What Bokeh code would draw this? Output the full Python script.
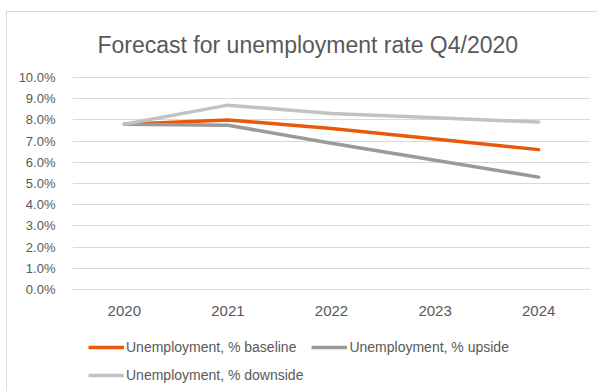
from bokeh.plotting import figure
from bokeh.layouts import column
from bokeh.models import (Range1d, FactorRange, FixedTicker, PrintfTickFormatter,
                          Legend, LegendItem)
from bokeh.embed import file_html
from bokeh.resources import INLINE

# ---- data ----
years = ["2020", "2021", "2022", "2023", "2024"]
baseline = [7.8, 8.0, 7.6, 7.1, 6.6]
upside = [7.8, 7.75, 6.9, 6.1, 5.3]
downside = [7.8, 8.7, 8.3, 8.1, 7.9]
y_ticks = [0, 1, 2, 3, 4, 5, 6, 7, 8, 9, 10]
title_text = "Forecast for unemployment rate Q4/2020"
names = ["Unemployment, % baseline", "Unemployment, % upside", "Unemployment, % downside"]

FONT = "Liberation Sans"
TXT = "#595959"
colors = ["#E65A0A", "#9A9A9A", "#C2C2C2"]

p = figure(x_range=FactorRange(*years), y_range=Range1d(-0.1, 10.1),
           width=590, height=316, output_backend="svg", toolbar_location=None,
           min_border_left=65, min_border_right=7, min_border_top=62, min_border_bottom=37,
           title=title_text)

p.title.text_font = FONT
p.title.text_font_size = "23px"
p.title.text_font_style = "normal"
p.title.text_color = TXT
p.title.align = "left"
p.title.offset = 25
p.title.standoff = 35

p.outline_line_color = None
p.background_fill_color = "white"
p.border_fill_color = "white"

p.xgrid.grid_line_color = None
p.ygrid.grid_line_color = "#D9D9D9"
p.ygrid.grid_line_width = 1
p.ygrid.ticker = FixedTicker(ticks=y_ticks)

p.yaxis.ticker = FixedTicker(ticks=y_ticks)
p.yaxis.formatter = PrintfTickFormatter(format="%.1f%%")
for ax in (p.xaxis[0], p.yaxis[0]):
    ax.axis_line_color = None
    ax.major_tick_line_color = None
    ax.minor_tick_line_color = None
    ax.major_tick_out = 0
    ax.major_tick_in = 0
    ax.major_label_text_color = TXT
    ax.major_label_text_font = FONT
p.yaxis.major_label_text_font_size = "13px"
p.yaxis.major_label_standoff = 17
p.xaxis.major_label_text_font_size = "15px"
p.xaxis.major_label_standoff = 14

for vals, c in zip([baseline, upside, downside], colors):
    p.line(years, vals, line_color=c, line_width=3.5,
           line_cap="round", line_join="round")

# ---- legend strip ----
p2 = figure(width=590, height=63, output_backend="svg", toolbar_location=None,
            x_range=Range1d(0, 1), y_range=Range1d(0, 1),
            x_axis_type=None, y_axis_type=None,
            min_border_left=65, min_border_right=7, min_border_top=0, min_border_bottom=0)
p2.outline_line_color = None
p2.grid.grid_line_color = None
p2.border_fill_color = "white"

# legend proxies drawn outside the visible range
legend_renderers = [p2.line([5, 6], [5, 6], line_color=c, line_width=3.5, line_cap="butt")
                    for c in colors]
legend = Legend(items=[LegendItem(label=n, renderers=[r]) for n, r in zip(names, legend_renderers)],
                location=(16, 6), orientation="horizontal", ncols=2,
                glyph_width=36, glyph_height=20, label_height=20, label_standoff=2,
                spacing=8, padding=0, margin=0,
                border_line_color=None, background_fill_alpha=0,
                label_text_font=FONT, label_text_font_size="14px", label_text_color=TXT)
p2.add_layout(legend, "center")

layout = column(p, p2, spacing=0)
layout.styles = {"margin-left": "6px", "margin-top": "11px",
                 "border-left": "1px solid #D9D9D9", "border-top": "1px solid #D9D9D9"}
open("out.html", "w").write(file_html(layout, INLINE))
